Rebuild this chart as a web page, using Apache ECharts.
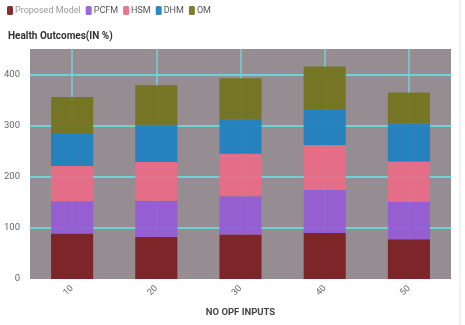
<!DOCTYPE html>
<html><head><meta charset="utf-8">
<script src="https://cdn.jsdelivr.net/npm/echarts@6/dist/echarts.min.js"></script>
<style>html,body{margin:0;padding:0;background:#fff}#c{width:465px;height:325px}</style>
</head><body><div id="c"></div>
<script>
var categories = ['10', '20', '30', '40', '50'];
var proposedModel = [89, 82, 87, 90, 78];
var pcfm = [63, 71, 75, 84, 73];
var hsm = [69, 76, 83, 88, 79];
var dhm = [64, 73, 67.5, 70, 74];
var om = [71, 77, 80.5, 84, 61];
var yTicks = [0, 100, 200, 300, 400];
var seriesNames = ['Proposed Model', 'PCFM', 'HSM', 'DHM', 'OM'];
var colors = ['#7b1c1e', '#955bd6', '#ea6a86', '#1c80c0', '#73731c'];
var values = [proposedModel, pcfm, hsm, dhm, om];

var chart = echarts.init(document.getElementById('c'));
var font = 'Roboto';
var cyan = '#6fd3d3';
chart.setOption({
  animation: false,
  textStyle: {fontFamily: font},
  title: {text: 'Health Outcomes(IN %)', left: 3, top: 26,
    textStyle: {fontSize: 10, fontWeight: 'bold', color: '#333', fontFamily: font}},
  legend: {left: 2, top: 1, itemWidth: 6, itemHeight: 9, itemGap: 5,
    icon: 'roundRect',
    textStyle: {fontSize: 9, color: '#555', padding: [0, 0, 0, -3], fontFamily: font},
    data: seriesNames.map(function (n, i) {
      return {name: n, textStyle: i === 0 ? {color: '#999'} : {}};
    })},
  grid: {left: 30, right: 14, top: 49, bottom: 46, show: true,
    backgroundColor: '#968d93', borderWidth: 0},
  xAxis: {type: 'category', data: categories,
    name: 'NO OPF INPUTS', nameLocation: 'middle', nameGap: 29,
    nameTextStyle: {fontSize: 9.5, fontWeight: 'bold', color: '#444', fontFamily: font},
    axisLine: {show: false}, axisTick: {show: false},
    axisLabel: {rotate: 45, fontSize: 9, color: '#666', margin: 8},
    splitLine: {show: true, alignWithLabel: true, lineStyle: {color: cyan, width: 1.5}}},
  yAxis: {type: 'value', min: 0, max: 450, interval: 100,
    axisLine: {show: false}, axisTick: {show: false},
    axisLabel: {fontSize: 9.5, color: '#666', margin: 10,
      formatter: function (v) { return yTicks.indexOf(v) >= 0 ? String(v) : ''; }},
    splitLine: {show: true, lineStyle: {color: ['transparent', cyan, cyan, cyan, cyan, 'transparent'], width: 2}}},
  series: seriesNames.map(function (n, i) {
    return {name: n, type: 'bar', stack: 's', data: values[i], barWidth: '50%',
      itemStyle: {color: colors[i], opacity: 0.92}};
  }),
  graphic: [{type: 'line', shape: {x1: 460, y1: 0, x2: 460, y2: 325},
    style: {stroke: '#e4e4e4', lineWidth: 1}}]
});
</script></body></html>
